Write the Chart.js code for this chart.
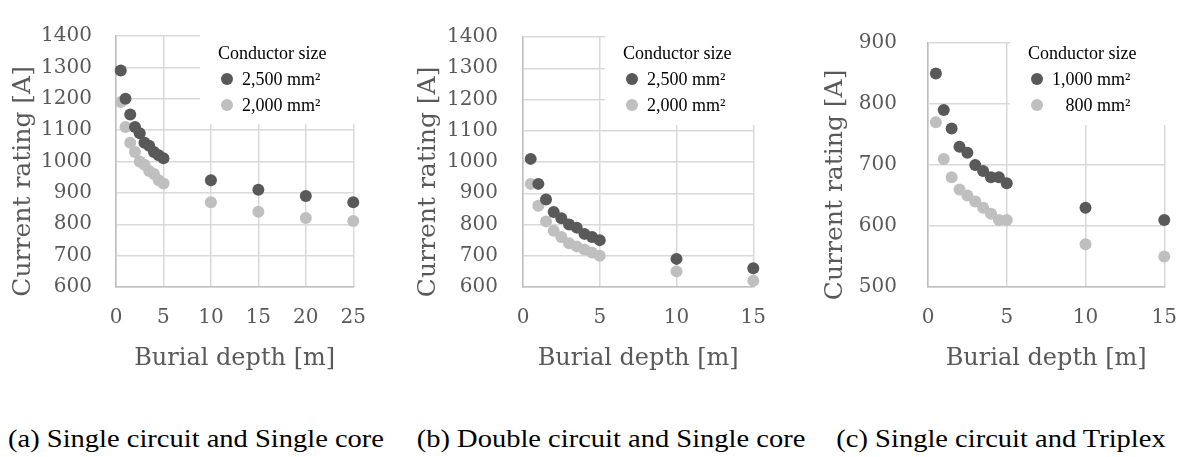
<!DOCTYPE html>
<html>
<head>
<meta charset="utf-8">
<script src="https://cdn.jsdelivr.net/npm/chart.js@4.4.1/dist/chart.umd.min.js"></script>
<style>
    body { margin: 0; background: #fff; width: 1196px; height: 457px; position: relative; overflow: hidden; }
    canvas { position: absolute; top: 0; }
    .cap {
        position: absolute; top: 426px; width: 400px; text-align: center; white-space: nowrap;
        font-family: "Liberation Serif", serif; font-size: 25px; line-height: 25px; color: #000;
        transform: scaleX(1.14); transform-origin: center top;
    }
</style>
</head>
<body>
<canvas id="chartA" width="385" height="390" style="left:0px"></canvas>
<canvas id="chartB" width="385" height="390" style="left:400px"></canvas>
<canvas id="chartC" width="396" height="390" style="left:800px"></canvas>
<div class="cap" style="left:-4px">(a) Single circuit and Single core</div>
<div class="cap" style="left:411px">(b) Double circuit and Single core</div>
<div class="cap" style="left:801px">(c) Single circuit and Triplex</div>
<script>
// burial depth [m]
const depthA  = [0.5, 1, 1.5, 2, 2.5, 3, 3.5, 4, 4.5, 5, 10, 15, 20, 25];
const depthBC = [0.5, 1, 1.5, 2, 2.5, 3, 3.5, 4, 4.5, 5, 10, 15];

// current rating [A]
const ratingA2500 = [1290, 1200, 1150, 1110, 1090, 1060, 1050, 1030, 1020, 1010, 940, 910, 890, 870];
const ratingA2000 = [1190, 1110, 1060, 1030, 1000, 990, 970, 960, 940, 930, 870, 840, 820, 810];
const ratingB2500 = [1010, 930, 880, 840, 820, 800, 790, 770, 760, 750, 690, 660];
const ratingB2000 = [930, 860, 810, 780, 760, 740, 730, 720, 710, 700, 650, 620];
const ratingC1000 = [850, 790, 760, 730, 720, 700, 690, 680, 680, 670, 630, 610];
const ratingC800  = [770, 710, 680, 660, 650, 640, 630, 620, 610, 610, 570, 550];

const labelsAB = ["2,500 mm\u00b2", "2,000 mm\u00b2"];
const labelsC  = ["1,000 mm\u00b2", "\u2007 800 mm\u00b2"];

const yTitle = "Current rating [A]" + "\u00a0".repeat(5);
const xTitle = "Burial depth [m]";

const DARK = "#595959";
const LIGHT = "#bfbfbf";

Chart.defaults.font.family = "'DejaVu Serif', serif";
Chart.defaults.color = "#595959";

function pts(xs, ys) {
    return xs.map((x, i) => ({ x: x, y: ys[i] }));
}

// legend drawn inside the plot, on a white box over the grid
const boxLegend = {
    id: "boxLegend",
    beforeDatasetsDraw(chart, args, opts) {
        const ctx = chart.ctx;
        ctx.save();
        ctx.fillStyle = "#ffffff";
        ctx.fillRect(opts.left, opts.top, opts.width, opts.height);
        ctx.fillStyle = "#000000";
        ctx.font = "18px 'Liberation Serif', serif";
        ctx.textAlign = "left";
        ctx.textBaseline = "alphabetic";
        ctx.fillText("Conductor size", opts.left + 18, opts.top + 34);
        chart.data.datasets.forEach((ds, i) => {
            const y = opts.top + 54 + i * 26;
            ctx.fillStyle = ds.backgroundColor;
            ctx.beginPath();
            ctx.arc(opts.left + 27, y, 6, 0, Math.PI * 2);
            ctx.fill();
            ctx.fillStyle = "#000000";
            ctx.textBaseline = "middle";
            ctx.fillText(ds.label, opts.left + 42, y + 1);
        });
        ctx.restore();
    }
};

function drawPanel(id, xs, s1, s2, labels, p) {
    new Chart(document.getElementById(id), {
        type: "scatter",
        data: {
            datasets: [
                { label: labels[0], data: pts(xs, s1), backgroundColor: DARK, borderWidth: 0, pointRadius: 6, clip: false },
                { label: labels[1], data: pts(xs, s2), backgroundColor: LIGHT, borderWidth: 0, pointRadius: 6, clip: false }
            ]
        },
        options: {
            responsive: false,
            animation: false,
            devicePixelRatio: 1,
            layout: { padding: { left: 0, top: 19, right: p.padRight, bottom: 0 } },
            plugins: {
                legend: { display: false },
                tooltip: { enabled: false },
                boxLegend: p.legend
            },
            scales: {
                x: {
                    type: "linear",
                    min: 0, max: p.xMax,
                    ticks: { stepSize: 5, padding: 19, font: { size: 20 }, color: "#595959", callback: v => String(v) },
                    grid: { color: "#d9d9d9", lineWidth: 1.5, drawTicks: false },
                    border: { color: "#bfbfbf", width: 1.5 },
                    title: { display: true, text: xTitle, font: { size: 24 }, color: "#595959", padding: { top: 0, bottom: 17 } },
                    afterFit: s => { s.height = 103; }
                },
                y: {
                    min: p.yMin, max: p.yMax,
                    ticks: { stepSize: 100, padding: p.tickPad, font: { size: 20 }, color: "#595959", callback: v => String(v) },
                    grid: { color: "#d9d9d9", lineWidth: 1.5, drawTicks: false },
                    border: { color: "#bfbfbf", width: 1.5 },
                    title: { display: true, text: yTitle, font: { size: 25 }, color: "#595959", padding: { top: p.titlePad, bottom: 0 } },
                    afterFit: s => { s.width = p.yWidth; }
                }
            }
        },
        plugins: [boxLegend]
    });
}

drawPanel("chartA", depthA, ratingA2500, ratingA2000, labelsAB, {
    xMax: 25, yMin: 600, yMax: 1400, yWidth: 116, padRight: 20, tickPad: 24, titlePad: 8,
    legend: { left: 200, top: 25, width: 162, height: 99 }
});
drawPanel("chartB", depthBC, ratingB2500, ratingB2000, labelsAB, {
    xMax: 15, yMin: 600, yMax: 1400, yWidth: 123, padRight: 15, tickPad: 25, titlePad: 13,
    legend: { left: 205, top: 25, width: 158, height: 100 }
});
drawPanel("chartC", depthBC, ratingC1000, ratingC800, labelsC, {
    xMax: 15, yMin: 500, yMax: 900, yWidth: 128, padRight: 19, tickPad: 31, titlePad: 20,
    legend: { left: 210, top: 25, width: 156, height: 100 }
});
</script>
</body>
</html>
